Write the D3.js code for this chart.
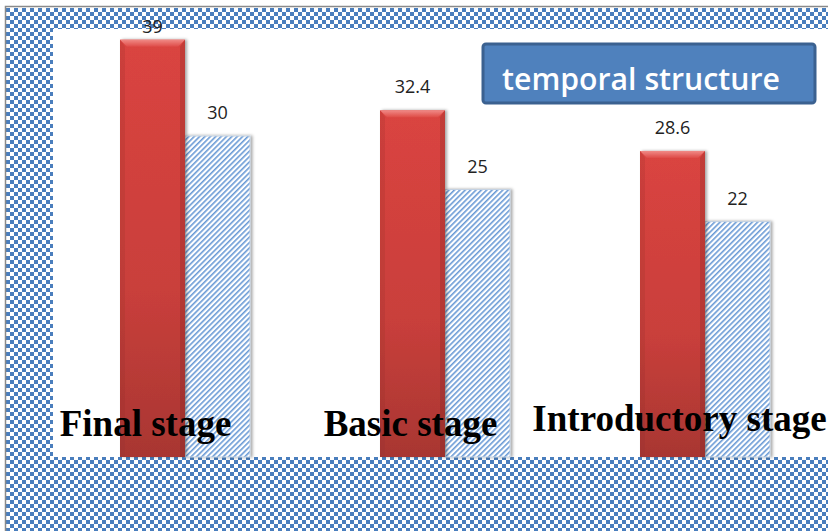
<!DOCTYPE html>
<html>
<head>
<meta charset="utf-8">
<script src="https://cdn.jsdelivr.net/npm/d3@7"></script>
<style>
  html, body { margin: 0; padding: 0; background: #fff; overflow: hidden; }
</style>
</head>
<body>
<svg id="chart" width="828" height="531"></svg>
<script>
// data
const categories = ['Final stage', 'Basic stage', 'Introductory stage'];
const series = ['s1', 's2'];
const valuesS1 = [39, 32.4, 28.6];
const valuesS2 = [30, 25, 22];
const legendLabel = 'temporal structure';

const rows = categories.map((c, i) => ({cat: c, s1: valuesS1[i], s2: valuesS2[i]}));

const W = 828, H = 531;
const plot = {left: 53, top: 29, right: 840, bottom: 457};

const svg = d3.select('#chart');
const defs = svg.append('defs');

// checker fill of the chart frame
const chk = defs.append('pattern').attr('id', 'chk')
  .attr('patternUnits', 'userSpaceOnUse').attr('width', 8).attr('height', 8)
  .attr('x', 6).attr('y', 8);
chk.append('rect').attr('width', 8).attr('height', 8).attr('fill', '#fff');
chk.append('rect').attr('width', 4).attr('height', 4).attr('fill', '#4a7ebd');
chk.append('rect').attr('x', 4).attr('y', 4).attr('width', 4).attr('height', 4).attr('fill', '#4a7ebd');

// diagonal hatch for 2nd series
const hatch = defs.append('pattern').attr('id', 'hatch')
  .attr('patternUnits', 'userSpaceOnUse').attr('width', 3.8).attr('height', 10)
  .attr('patternTransform', 'rotate(45)');
hatch.append('rect').attr('width', 3.8).attr('height', 10).attr('fill', '#fff');
hatch.append('rect').attr('width', 1.6).attr('height', 10).attr('fill', '#6b9bd6');

const redGrad = defs.append('linearGradient').attr('id', 'redGrad')
  .attr('x1', 0).attr('y1', 0).attr('x2', 0).attr('y2', 1);
redGrad.append('stop').attr('offset', '0%').attr('stop-color', '#da4440');
redGrad.append('stop').attr('offset', '60%').attr('stop-color', '#c93f3b');
redGrad.append('stop').attr('offset', '100%').attr('stop-color', '#a83632');

const bevelGrad = defs.append('linearGradient').attr('id', 'bevelGrad')
  .attr('x1', 0).attr('y1', 0).attr('x2', 0).attr('y2', 1);
bevelGrad.append('stop').attr('offset', '0%').attr('stop-color', '#f08a86');
bevelGrad.append('stop').attr('offset', '100%').attr('stop-color', '#de4b47');

const shadow = defs.append('filter').attr('id', 'shadow')
  .attr('x', '-20%').attr('y', '-5%').attr('width', '140%').attr('height', '110%');
shadow.append('feDropShadow').attr('dx', 2).attr('dy', 0).attr('stdDeviation', 1.6)
  .attr('flood-color', '#000').attr('flood-opacity', 0.35);

// frame
svg.append('rect').attr('x', 6).attr('y', 8).attr('width', W).attr('height', H)
  .attr('fill', 'url(#chk)');
svg.append('path').attr('d', `M5.5,${H} V6.5 H${W}`)
  .attr('fill', 'none').attr('stroke', '#8a8a8a').attr('stroke-width', 1.5);
svg.append('rect').attr('x', plot.left).attr('y', plot.top)
  .attr('width', plot.right - plot.left).attr('height', plot.bottom - plot.top)
  .attr('fill', '#fff');

// scales
const x = d3.scaleBand().domain(categories).range([55, 835])
  .paddingInner(0.5).paddingOuter(0.25);
const xs = d3.scaleBand().domain(series).range([0, x.bandwidth()]);
const y = d3.scaleLinear().domain([0, 40]).range([plot.bottom, plot.top]);

const g = svg.append('g');
const groups = g.selectAll('g.grp').data(rows).join('g')
  .attr('class', 'grp')
  .attr('transform', d => `translate(${x(d.cat)},0)`);

// hatched bars (drawn first, red overlaps its left edge shadow)
groups.append('rect')
  .attr('x', xs('s2')).attr('y', d => y(d.s2))
  .attr('width', xs.bandwidth()).attr('height', d => y(0) - y(d.s2))
  .attr('fill', 'url(#hatch)').attr('stroke', '#c3d1e2').attr('stroke-width', 1)
  .attr('filter', 'url(#shadow)');

// red bars with bevel
const red = groups.append('g').attr('filter', 'url(#shadow)');
red.append('rect')
  .attr('x', xs('s1')).attr('y', d => y(d.s1))
  .attr('width', xs.bandwidth()).attr('height', d => y(0) - y(d.s1))
  .attr('fill', 'url(#redGrad)');
red.append('path')
  .attr('d', d => {
    const x0 = xs('s1'), x1 = x0 + xs.bandwidth(), t = y(d.s1), b = 7;
    return `M${x0},${t} H${x1} L${x1 - b},${t + b} H${x0 + b} Z`;
  })
  .attr('fill', 'url(#bevelGrad)');
red.append('path')
  .attr('d', d => {
    const x0 = xs('s1'), t = y(d.s1), b = 5;
    return `M${x0},${t} L${x0 + b},${t + 7} V${y(0)} H${x0} Z`;
  })
  .attr('fill', '#8a2a27').attr('opacity', 0.18);
red.append('path')
  .attr('d', d => {
    const x1 = xs('s1') + xs.bandwidth(), t = y(d.s1), b = 5;
    return `M${x1},${t} L${x1 - b},${t + 7} V${y(0)} H${x1} Z`;
  })
  .attr('fill', '#6e1f1c').attr('opacity', 0.22);

// value labels
const valFont = '"Open Sans", "Noto Sans", sans-serif';
groups.append('text')
  .attr('x', xs('s1') + xs.bandwidth() / 2)
  .attr('y', d => Math.max(y(d.s1) - 17, 33))
  .attr('text-anchor', 'middle').attr('font-family', valFont).attr('font-size', 18)
  .attr('fill', '#222').text(d => d.s1);
groups.append('text')
  .attr('x', xs('s2') + xs.bandwidth() / 2)
  .attr('y', d => y(d.s2) - 17)
  .attr('text-anchor', 'middle').attr('font-family', valFont).attr('font-size', 18)
  .attr('fill', '#222').text(d => d.s2);

// category labels, drawn over the bars
const labelBase = [436, 436, 431];
const labelShift = [-7, -2, 7];
g.selectAll('text.cat').data(categories).join('text')
  .attr('class', 'cat')
  .attr('x', (d, i) => x(d) + xs('s1') + xs.bandwidth() / 2 + labelShift[i])
  .attr('y', (d, i) => labelBase[i])
  .attr('text-anchor', 'middle')
  .attr('font-family', '"Liberation Serif", "Times New Roman", serif')
  .attr('font-weight', 'bold').attr('font-size', 37)
  .attr('fill', '#000').text(d => d);

// legend box
const lg = svg.append('g').attr('transform', 'translate(483,44)');
lg.append('rect').attr('width', 332).attr('height', 59).attr('rx', 3)
  .attr('fill', '#4f81bd').attr('stroke', '#3b6190').attr('stroke-width', 3);
lg.append('text').attr('x', 19).attr('y', 46)
  .attr('font-family', '"Open Sans", "Noto Sans", sans-serif')
  .attr('font-weight', 600).attr('font-size', 30)
  .attr('textLength', 278).attr('lengthAdjust', 'spacingAndGlyphs')
  .attr('fill', '#fff').text(legendLabel);
</script>
</body>
</html>
